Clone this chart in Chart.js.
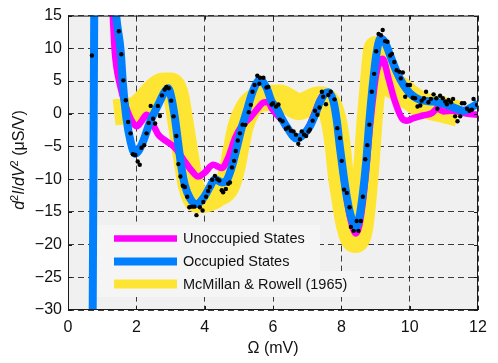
<!DOCTYPE html>
<html><head><meta charset="utf-8">
<style>html,body{margin:0;padding:0;background:#fff}</style>
<script src="https://cdn.jsdelivr.net/npm/chart.js@4.4.1/dist/chart.umd.min.js"></script>
</head><body>
<canvas id="c" width="498" height="363" style="width:498px;height:363px;display:block"></canvas>
<script>
// ---------- data ----------
const xTicks = [0, 2, 4, 6, 8, 10, 12];
const yTicks = [15, 10, 5, 0, -5, -10, -15, -20, -25, -30];
const seriesLabels = ['Unoccupied States', 'Occupied States', 'McMillan & Rowell (1965)'];

const occupiedX = [0.72, 0.77, 1.0, 1.37, 1.41, 1.54, 1.61, 1.71, 1.83, 1.96, 2.05, 2.2, 2.39, 2.64, 2.83, 2.93, 3.03, 3.13, 3.23, 3.32, 3.42, 3.57, 3.76, 3.96, 4.15, 4.3, 4.5, 4.64, 4.79, 4.94, 5.08, 5.23, 5.37, 5.52, 5.62, 5.81, 5.96, 6.11, 6.25, 6.45, 6.69, 6.89, 7.08, 7.23, 7.38, 7.52, 7.62, 7.77, 7.87, 7.96, 8.06, 8.16, 8.26, 8.36, 8.43, 8.53, 8.63, 8.73, 8.82, 8.92, 9.02, 9.14, 9.28, 9.43, 9.62, 9.82, 10.01, 10.31, 10.7, 11.09, 11.38, 11.58, 11.77, 12.0];
const occupiedY = [-33, 18, null, 18, 15, 9.7, 4.4, -0.67, -4.2, -6.1, -5.8, -4.2, -1.4, 1.36, 3.37, 3.9, 2.36, -0.67, -4.7, -8.2, -10.9, -12.9, -13.8, -12.9, -11.2, -10.0, -10.5, -10.2, -8.2, -5.2, -2.2, 0.35, 2.87, 4.7, 5.2, 4.0, 1.86, 0.85, -0.67, -2.4, -3.8, -3.17, -1.9, -0.15, 1.86, 3.1, 3.3, 1.86, -1.16, -5.2, -9.2, -12.7, -15.3, -16.9, -17.3, -15.8, -12.2, -7.2, -1.16, 4.4, 8.9, 11.5, 10.9, 8.9, 6.4, 4.4, 3.1, 2.1, 1.86, 1.36, 0.76, 0.45, 0.85, 1.6];

const unoccupiedX = [1.28, 1.31, 1.37, 1.52, 1.71, 1.9, 2.02, 2.15, 2.3, 2.49, 2.64, 2.88, 3.13, 3.37, 3.62, 3.81, 4.0, 4.25, 4.5, 4.69, 4.89, 5.08, 5.32, 5.52, 5.72, 5.86, 5.96, 6.11, 6.25, 6.45, 6.69, 6.89, 7.08, 7.23, 7.38, 7.52, 7.62, 7.77, 7.87, 7.96, 8.06, 8.16, 8.26, 8.36, 8.43, 8.53, 8.63, 8.73, 8.82, 8.92, 9.02, 9.12, 9.21, 9.38, 9.57, 9.77, 9.92, 10.11, 10.4, 10.65, 10.8, 10.99, 11.24, 11.48, 11.77, 12.0];
const unoccupiedY = [18, 15, 9.4, 4.4, 0.85, -1.4, -1.9, -1.16, -0.15, -1.67, -3.17, -4.2, -5.2, -6.95, -8.7, -9.6, -9.0, -7.8, -8.3, -6.7, -3.7, -1.9, -0.67, 0.6, 1.7, 1.8, 0.85, -0.15, -0.9, -2.5, -3.8, -3.17, -1.6, 0.3, 2.2, 3.2, 3.3, 1.86, -1.16, -5.2, -9.4, -13.0, -16.0, -17.8, -18.3, -17.0, -13.5, -8.5, -3.0, 2.0, 6.0, 7.9, 8.4, 5.4, 1.86, -0.67, -1.06, -0.67, -0.26, 0.1, 0.76, 0.35, 0.45, 0.24, -0.06, -0.15];

const mcmillanX = [1.35, 1.7, 2.0, 2.25, 2.5, 2.8, 3.0, 3.15, 3.3, 3.45, 3.6, 3.8, 4.1, 4.4, 4.65, 4.8, 4.93, 5.05, 5.25, 5.5, 5.8, 6.2, 6.5, 6.75, 7.0, 7.35, 7.55, 7.7, 7.8, 7.9, 7.98, 8.08, 8.2, 8.4, 8.55, 8.65, 8.74, 8.82, 8.92, 8.98, 9.03, 9.15, 9.3, 9.5, 9.72, 10.0, 10.3, 10.9, 11.42];
const mcmillanY = [0.2, 0.4, 0.7, 1.8, 3.3, 4.3, 4.3, 3.0, -1.5, -6.5, -11.0, -13.2, -13.0, -12.2, -11.0, -8.5, -5.0, -2.0, 0.6, 2.0, 2.4, 2.5, 1.7, 1.0, 1.5, 2.2, 1.9, 0.4, -1.6, -5.2, -9.2, -12.7, -16.5, -19.3, -17.5, -13.0, -7.5, -1.5, 4.5, 8.0, 9.9, 7.5, 5.2, 4.3, 3.7, 2.5, 1.5, 0.7, 0.0];

const dotsX = [0.70, 1.49, 1.56, 1.62, 1.69, 1.76, 1.83, 1.90, 1.97, 2.04, 2.10, 2.15, 2.23, 2.30, 2.36, 2.42, 2.49, 2.55, 2.63, 2.69, 2.75, 2.83, 2.88, 2.95, 3.02, 3.09, 3.17, 3.23, 3.29, 3.36, 3.42, 3.49, 3.55, 3.63, 3.70, 3.76, 3.86, 3.94, 3.96, 4.04, 4.10, 4.15, 4.22, 4.30, 4.37, 4.43, 4.50, 4.54, 4.62, 4.69, 4.74, 4.80, 4.86, 4.91, 4.97, 5.03, 5.11, 5.19, 5.29, 5.35, 5.40, 5.46, 5.54, 5.60, 5.62, 5.72, 5.81, 5.86, 5.96, 6.00, 6.09, 6.16, 6.20, 6.28, 6.38, 6.45, 6.52, 6.60, 6.67, 6.74, 6.79, 6.84, 6.91, 6.97, 7.04, 7.08, 7.16, 7.23, 7.30, 7.36, 7.43, 7.47, 7.55, 7.62, 7.69, 7.80, 7.88, 7.96, 8.01, 8.08, 8.16, 8.24, 8.28, 8.36, 8.45, 8.50, 8.57, 8.63, 8.70, 8.76, 8.82, 8.89, 8.96, 9.02, 9.09, 9.16, 9.21, 9.28, 9.35, 9.43, 9.48, 9.55, 9.62, 9.70, 9.74, 9.80, 9.87, 9.94, 10.01, 10.09, 10.16, 10.23, 10.31, 10.35, 10.42, 10.48, 10.55, 10.62, 10.70, 10.78, 10.81, 10.89, 10.97, 11.04, 11.09, 11.14, 11.21, 11.27, 11.33, 11.40, 11.48, 11.53, 11.60, 11.68, 11.75, 11.82, 11.87, 11.97];
const dotsY = [8.9, 12.6, 9.1, 5.1, 2.05, -1.27, -3.0, -6.2, -6.3, -7.3, -7.8, -5.2, -4.8, -3.0, -1.4, 1.2, -0.76, -1.5, 1.2, -0.35, 2.8, 3.7, 4.1, 3.9, 2.0, -0.4, -3.4, -7.7, -9.6, -11.0, -11.2, -12.7, -14.3, -14.2, -14.2, -15.5, -14.3, -14.8, -13.5, -12.7, -11.8, -11.2, -10.1, -9.5, -10.0, -10.2, -11.7, -12.0, -11.5, -10.7, -10.5, -8.2, -7.2, -5.7, -4.1, -3.0, -1.67, -1.7, 0.24, 1.36, 3.37, 4.4, 5.8, 4.6, 5.5, 5.5, 4.0, 4.1, 1.4, 1.6, 1.1, 1.4, -0.9, -1.16, -2.3, -2.1, -2.6, -2.7, -3.2, -4.6, -3.9, -2.7, -3.2, -3.4, -2.7, -2.4, -1.06, 0.45, -0.15, 0.95, 3.37, 2.6, 1.45, 2.87, 3.37, 2.2, -2.2, -3.7, -7.2, -11.6, -12.1, -14.3, -17.3, -17.9, -16.4, -17.9, -16.4, -12.7, -6.95, -4.8, -1.67, 3.37, 6.1, 9.56, 12.2, 12.0, 12.8, 11.1, 11.0, 8.9, 9.15, 7.9, 6.65, 6.4, 5.4, 6.3, 2.6, 4.4, 4.4, 2.46, 2.36, 1.1, 1.25, 2.0, 2.36, 3.37, 1.75, 2.27, 2.96, 2.36, 0.76, 2.76, 2.36, 1.86, 1.45, 2.1, 1.75, 2.27, -0.4, -1.16, -0.4, 1.6, 1.6, 0.76, 0.45, 0.6, 2.27, 1.36];

// ---------- helpers ----------
const pts = (xs, ys) => xs.map((x, i) => ({x: x, y: ys[i]}));
const FONT = '"Liberation Sans", Arial, Helvetica, sans-serif';
const COLORS = {mag: '#ff00ff', blue: '#0080ff', yel: '#ffe533'};
const fmt = v => (v < 0 ? '\u2212' + Math.abs(v) : String(v));

const decor = {
  id: 'decor',
  beforeDraw(chart) {
    const {ctx, chartArea: a} = chart;
    ctx.save();
    ctx.fillStyle = '#ffffff';
    ctx.fillRect(0, 0, chart.width, chart.height);
    ctx.fillStyle = '#f0f0f0';
    ctx.fillRect(a.left, a.top, a.right - a.left, a.bottom - a.top);
    ctx.restore();
  },
  beforeDatasetsDraw(chart) {
    const {ctx} = chart;
    ctx.save();
    ctx.fillStyle = '#f5f5f5';
    ctx.fillRect(97, 225, 223, 46);
    ctx.fillRect(97, 271, 263, 26);
    ctx.restore();
  },
  afterDraw(chart) {
    const {ctx, chartArea: a, scales} = chart;
    ctx.save();
    // border
    ctx.strokeStyle = '#1a1a1a';
    ctx.lineWidth = 1;
    ctx.strokeRect(a.left + 0.5, a.top + 0.5, a.right - a.left - 1, a.bottom - a.top - 1);
    // inward ticks
    ctx.beginPath();
    xTicks.forEach(v => {
      const px = Math.round(scales.x.getPixelForValue(v)) + 0.5;
      ctx.moveTo(px, a.bottom); ctx.lineTo(px, a.bottom - 4);
      ctx.moveTo(px, a.top); ctx.lineTo(px, a.top + 4);
    });
    yTicks.forEach(v => {
      const py = Math.round(scales.y.getPixelForValue(v)) + 0.5;
      ctx.moveTo(a.left, py); ctx.lineTo(a.left + 4, py);
      ctx.moveTo(a.right, py); ctx.lineTo(a.right - 4, py);
    });
    ctx.stroke();
    // legend
    const ds = chart.data.datasets;
    const rows = [
      {i: 1, y: 238.5, h: 6.5},
      {i: 2, y: 261.5, h: 8},
      {i: 3, y: 284, h: 9}
    ];
    ctx.textBaseline = 'middle';
    ctx.textAlign = 'left';
    ctx.font = '14.5px ' + FONT;
    rows.forEach(r => {
      const d = ds[r.i];
      ctx.fillStyle = d.borderColor;
      ctx.fillRect(114, r.y - r.h / 2, 63, r.h);
      ctx.fillStyle = '#111';
      ctx.fillText(d.label, 183, r.y + 0.5);
    });
    // x title
    ctx.font = '16px ' + FONT;
    ctx.textAlign = 'center';
    ctx.fillStyle = '#111';
    ctx.fillText('\u03A9 (mV)', 273, 349);
    // y title
    const parts = [
      ['d', 'italic ', 16, 0], ['2', '', 11, -6], ['I', 'italic ', 16, 0], ['/', '', 16, 0],
      ['d', 'italic ', 16, 0], ['V', 'italic ', 16, 0], ['2', '', 11, -6], [' (\u03BCS/V)', '', 16, 0]
    ];
    let total = 0;
    parts.forEach(p => { ctx.font = p[1] + p[2] + 'px ' + FONT; p.push(ctx.measureText(p[0]).width); total += p[4]; });
    ctx.translate(24, 160);
    ctx.rotate(-Math.PI / 2);
    ctx.textAlign = 'left';
    ctx.textBaseline = 'alphabetic';
    let cx = -total / 2;
    parts.forEach(p => {
      ctx.font = p[1] + p[2] + 'px ' + FONT;
      ctx.fillText(p[0], cx, p[3]);
      cx += p[4];
    });
    ctx.restore();
  }
};

new Chart(document.getElementById('c'), {
  type: 'scatter',
  data: {
    datasets: [
      {label: 'data', data: pts(dotsX, dotsY), showLine: false, pointRadius: 2.2, pointBackgroundColor: '#000', pointBorderWidth: 0, order: 0},
      {label: seriesLabels[0], data: pts(unoccupiedX, unoccupiedY), showLine: true, borderColor: COLORS.mag, borderWidth: 6.5, pointRadius: 0, cubicInterpolationMode: 'monotone', spanGaps: false, borderJoinStyle: 'round', order: 2},
      {label: seriesLabels[1], data: pts(occupiedX, occupiedY), showLine: true, borderColor: COLORS.blue, borderWidth: 8, pointRadius: 0, cubicInterpolationMode: 'monotone', spanGaps: false, borderJoinStyle: 'round', order: 1},
      {label: seriesLabels[2], data: pts(mcmillanX, mcmillanY), showLine: true, borderColor: COLORS.yel, borderWidth: 26, pointRadius: 0, cubicInterpolationMode: 'monotone', borderJoinStyle: 'round', borderCapStyle: 'butt', order: 3}
    ]
  },
  options: {
    responsive: false,
    animation: false,
    devicePixelRatio: 1,
    layout: {padding: {left: 0, right: 20, top: 13, bottom: 0}},
    plugins: {legend: {display: false}, tooltip: {enabled: false}},
    scales: {
      x: {
        type: 'linear', min: 0, max: 12,
        afterFit: s => { s.height = 53; },
        afterBuildTicks: s => { s.ticks = xTicks.map(v => ({value: v})); },
        ticks: {padding: 8, color: '#111', font: {family: FONT, size: 16}, callback: fmt, maxRotation: 0},
        grid: {color: 'rgba(0,0,0,0.75)', lineWidth: 1, drawTicks: false},
        border: {display: false, dash: [6, 4]}
      },
      y: {
        type: 'linear', min: -30, max: 15,
        afterFit: s => { s.width = 68; },
        afterBuildTicks: s => { s.ticks = yTicks.map(v => ({value: v})); },
        ticks: {padding: 6, color: '#111', font: {family: FONT, size: 16}, callback: fmt},
        grid: {color: 'rgba(0,0,0,0.75)', lineWidth: 1, drawTicks: false},
        border: {display: false, dash: [6, 4]}
      }
    }
  },
  plugins: [decor]
});
</script>
</body></html>
